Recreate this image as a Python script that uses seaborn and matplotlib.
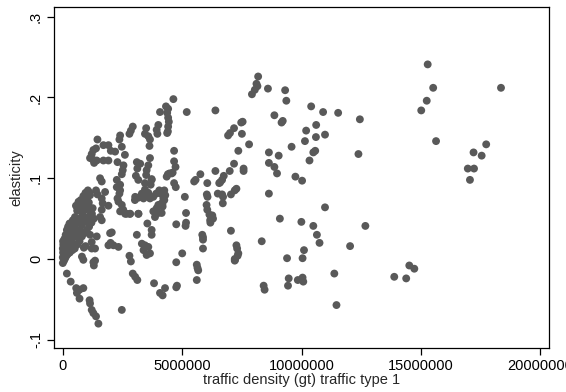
import numpy as np
import pandas as pd
import matplotlib
matplotlib.use("Agg")
import matplotlib.pyplot as plt
import seaborn as sns

# traffic density in millions of gross tonnes (converted to units below)
density_m = [
    # sparse right part
    15.28, 15.51, 15.24, 15.01, 15.63, 18.35, 17.73, 17.54, 17.20, 16.96, 17.22, 17.05,
    13.88, 14.38, 14.51, 14.72, 11.46, 11.37, 12.03, 12.67, 12.44, 12.38, 11.53, 10.90,
    10.98, 10.40, 10.61, 10.60, 10.19, 10.14, 10.33, 10.49, 10.57, 10.02, 9.74, 9.58,
    9.31, 9.36, 9.16, 9.21, 9.04, 8.86, 8.97, 8.86, 8.63, 8.63, 8.63, 8.59, 8.18, 8.15,
    8.11, 8.04, 7.92, 7.80, 8.33, 8.41, 8.45, 9.09, 9.39, 9.46, 9.43, 9.84, 10.04, 10.07,
    10.04, 10.10, 9.99, 10.49, 10.64, 10.75, 10.98,
    # middle part
    6.92, 7.00, 7.17, 7.47, 7.53, 7.50, 7.35, 7.17, 7.57, 7.57, 7.20, 7.27, 7.04, 7.04,
    7.27, 7.30, 7.35, 7.32, 7.20, 7.20, 6.74, 6.67, 6.59, 6.67, 6.71, 6.70, 6.49, 6.39,
    6.39, 6.05, 6.03, 6.06, 6.02, 6.05, 6.14, 6.26, 6.29, 6.17, 6.18, 5.76, 5.50, 5.56,
    5.84, 5.87, 5.87, 5.87, 5.61, 5.64, 5.61, 5.19, 5.11, 5.16, 5.16, 5.14, 5.00, 4.75,
    4.75, 4.78, 4.75, 4.63, 4.66, 4.66, 4.72, 4.60, 4.66, 4.73, 4.40, 4.47, 4.32, 4.41,
    4.37, 4.41, 4.44, 4.41, 4.40, 4.37, 4.07, 4.25, 4.29, 4.25, 4.17, 4.14, 6.99, 6.55,
    5.67, 7.21,
    # left part (1.5 - 4.3 million)
    4.00, 3.93, 3.96, 3.49, 3.44, 3.58, 2.93, 2.85, 2.79, 2.40, 2.37, 2.47, 3.65, 3.63,
    1.45, 1.28, 1.39, 1.21, 1.26, 1.42, 1.31, 1.14, 1.70, 1.91, 2.01, 1.70, 1.91, 2.19,
    2.29, 2.54, 2.51, 2.47, 3.10, 3.24, 3.12, 3.65, 3.58, 3.51, 3.49, 3.72, 3.68, 1.56,
    1.63, 1.77, 1.39, 1.45, 1.07, 1.14, 1.00, 0.98, 0.66, 0.73, 0.59, 0.80, 1.63, 1.67,
    1.91, 1.63, 1.56, 1.63, 2.26, 2.26, 2.37, 2.29, 2.33, 2.47, 2.40, 2.61, 2.82, 1.98,
    1.91, 2.12, 2.33, 3.10, 3.17, 3.03, 3.17, 3.31, 3.38, 3.51, 3.58, 3.44, 3.65, 3.79,
    3.91, 4.04, 4.10, 4.21, 4.14, 4.00, 4.18, 3.93, 3.79, 3.86, 4.00, 3.54, 3.31, 3.44,
    3.38, 3.58, 3.65, 3.51, 3.72, 3.72, 2.79, 2.85, 2.93, 3.03, 3.12, 2.47, 3.82, 4.07,
    4.18, 4.28, 2.60, 3.06, 3.16, 3.44, 3.72, 4.35, 4.56, 2.40, 2.40, 2.53, 2.67, 2.81,
    3.16, 3.02, 2.00, 2.05,
    # dense band near the origin
    0.00, 0.00, 0.01, 0.00, 0.02, 0.01, 0.05, 0.06, 0.04, 0.07, 0.10, 0.11, 0.09, 0.12,
    0.15, 0.16, 0.14, 0.17, 0.20, 0.21, 0.19, 0.22, 0.29, 0.31, 0.30, 0.28, 0.40, 0.38,
    0.41, 0.42, 0.50, 0.52, 0.49, 0.51, 0.61, 0.59, 0.62, 0.60, 0.70, 0.71, 0.69, 0.72,
    0.80, 0.79, 0.82, 0.81, 0.90, 0.91, 0.89, 0.92, 1.00, 1.01, 0.99, 1.02, 1.10, 1.11,
    1.09, 1.12, 1.20, 1.22, 1.30, 0.45, 0.24, 0.33, 0.55, 0.66, 0.75, 0.86, 0.95, 1.05,
    1.15, 1.25,
    # right of the band and below it
    0.88, 0.95, 1.14, 1.42, 1.21, 1.35, 1.21, 0.80, 0.86, 1.28, 1.35, 1.30, 0.73, 0.52,
    0.17, 0.33, 0.56, 0.70, 0.59, 0.70, 0.86, 1.12, 1.14, 1.21, 1.28, 1.39, 1.49,
]

elasticity = [
    # sparse right part
    0.241, 0.212, 0.196, 0.184, 0.146, 0.212, 0.142, 0.128, 0.132, 0.112, 0.112, 0.098,
    -0.022, -0.024, -0.008, -0.012, -0.057, -0.018, 0.016, 0.041, 0.173, 0.130, 0.181, 0.182,
    0.154, 0.189, 0.166, 0.151, 0.159, 0.146, 0.122, 0.132, 0.134, 0.097, 0.102, 0.139,
    0.209, 0.196, 0.169, 0.171, 0.128, 0.114, 0.106, 0.178, 0.132, 0.119, 0.081, 0.211, 0.226, 0.214,
    0.217, 0.2095, 0.204, 0.142, 0.022, -0.033, -0.038, 0.050, 0.001, -0.024, -0.033, -0.026, -0.023, -0.028,
    0.001, 0.011, 0.046, 0.041, 0.030, 0.020, 0.064,
    # middle part
    0.153, 0.156, 0.162, 0.169, 0.170, 0.155, 0.134, 0.118, 0.112, 0.109, 0.085, 0.087, 0.080, 0.035,
    0.017, 0.013, 0.007, 0.004, 0.000, -0.002, 0.103, 0.098, 0.095, 0.080, 0.077, 0.069, 0.081, 0.109,
    0.184, 0.094, 0.080, 0.077, 0.067, 0.061, 0.055, 0.054, 0.050, 0.048, 0.045, 0.105, 0.096, 0.098,
    0.030, 0.027, 0.024, 0.013, -0.007, -0.011, -0.026, 0.182, 0.077, 0.057, 0.045, 0.041, 0.007, 0.043,
    -0.004, -0.033, -0.035, 0.198, 0.134, 0.121, 0.114, 0.107, 0.094, 0.089, 0.105, 0.106, 0.189, 0.186,
    0.181, 0.175, 0.170, 0.164, 0.158, 0.156, 0.182, 0.085, 0.079, 0.073, 0.068, 0.057, 0.109, 0.094,
    -0.014, -0.001,
    # left part
    0.166, 0.160, 0.155, 0.162, 0.155, 0.152, 0.164, 0.159, 0.155, 0.153, 0.148, 0.139, 0.148, 0.140,
    0.148, 0.135, 0.137, 0.130, 0.123, 0.122, 0.119, 0.125, 0.141, 0.141, 0.134, 0.122, 0.122, 0.133,
    0.120, 0.116, 0.110, 0.105, 0.120, 0.118, 0.112, 0.125, 0.116, 0.110, 0.104, 0.098, 0.092, 0.100,
    0.096, 0.083, 0.085, 0.080, 0.083, 0.079, 0.075, 0.071, 0.071, 0.067, 0.065, 0.063, 0.075, 0.069,
    0.066, 0.061, 0.052, 0.048, 0.098, 0.089, 0.081, 0.075, 0.071, 0.067, 0.059, 0.056, 0.056, 0.032,
    0.017, 0.017, 0.015, 0.030, 0.056, 0.077, 0.076, 0.081, 0.075, 0.079, 0.082, 0.086, 0.075, 0.077,
    0.081, 0.085, 0.081, 0.075, 0.069, 0.067, 0.065, 0.063, 0.059, 0.052, 0.057, 0.044, 0.019, 0.017,
    0.011, 0.015, 0.007, 0.005, 0.036, 0.030, 0.004, -0.003, -0.018, -0.022, -0.026, -0.063, -0.030, -0.042,
    -0.045, -0.036, 0.129, 0.103, 0.098, 0.094, 0.099, 0.102, 0.106, 0.092, 0.085, 0.061, 0.056, 0.056,
    0.056, 0.073, 0.020, 0.033,
    # dense band near the origin
    -0.005, 0.002, 0.008, 0.013, 0.018, 0.022, -0.002, 0.009, 0.017, 0.025, 0.001, 0.011, 0.021, 0.030,
    0.004, 0.015, 0.027, 0.036, 0.006, 0.018, 0.030, 0.040, 0.008, 0.021, 0.033, 0.044, 0.011, 0.025,
    0.037, 0.048, 0.013, 0.028, 0.040, 0.052, 0.018, 0.032, 0.046, 0.060, 0.022, 0.036, 0.050, 0.064,
    0.028, 0.042, 0.055, 0.068, 0.032, 0.046, 0.060, 0.072, 0.036, 0.050, 0.065, 0.078, 0.040, 0.053,
    0.070, 0.082, 0.045, 0.056, 0.050, 0.019, 0.013, 0.035, 0.066, 0.070, 0.073, 0.078, 0.082, 0.085,
    0.060, 0.063,
    # right of the band and below it
    0.014, 0.016, 0.030, 0.028, 0.021, 0.013, 0.013, 0.003, -0.001, -0.004, -0.002, -0.008, 0.034, 0.028,
    -0.018, -0.028, -0.036, -0.038, -0.042, -0.049, -0.036, -0.051, -0.055, -0.063, -0.067, -0.071, -0.080,
]

x_ticks = [0, 5000000, 10000000, 15000000, 20000000]
x_tick_labels = ["0", "5000000", "10000000", "15000000", "20000000"]
y_ticks = [-0.1, 0.0, 0.1, 0.2, 0.3]
y_tick_labels = ["-.1", "0", ".1", ".2", ".3"]

df = pd.DataFrame({
    "density": np.array(density_m) * 1e6,
    "elasticity": elasticity,
})

sns.set_style("ticks")
plt.rcParams["font.family"] = ["Liberation Sans", "DejaVu Sans"]

fig = plt.figure(figsize=(5.66, 3.92), dpi=100)
ax = fig.add_axes([0.0958, 0.113, 0.875, 0.868])

sns.scatterplot(data=df, x="density", y="elasticity", ax=ax,
                color="#595959", s=32, linewidth=0, edgecolor="none")

ax.set_xlim(-360000, 20380000)
ax.set_ylim(-0.1098, 0.3115)
ax.set_xticks(x_ticks)
ax.set_xticklabels(x_tick_labels, fontsize=10.5)
ax.set_yticks(y_ticks)
ax.set_yticklabels(y_tick_labels, fontsize=10.5, rotation=90, va="center")
ax.tick_params(axis="both", direction="out", length=5, width=0.9, color="black",
               labelcolor="black", pad=3)
for sp in ax.spines.values():
    sp.set_visible(True)
    sp.set_color("black")
    sp.set_linewidth(0.9)

ax.set_xlabel("traffic density (gt) traffic type 1", fontsize=10.5, labelpad=0)
ax.set_ylabel("elasticity", fontsize=10.5, labelpad=4)

fig.savefig("out.png", dpi=100)
